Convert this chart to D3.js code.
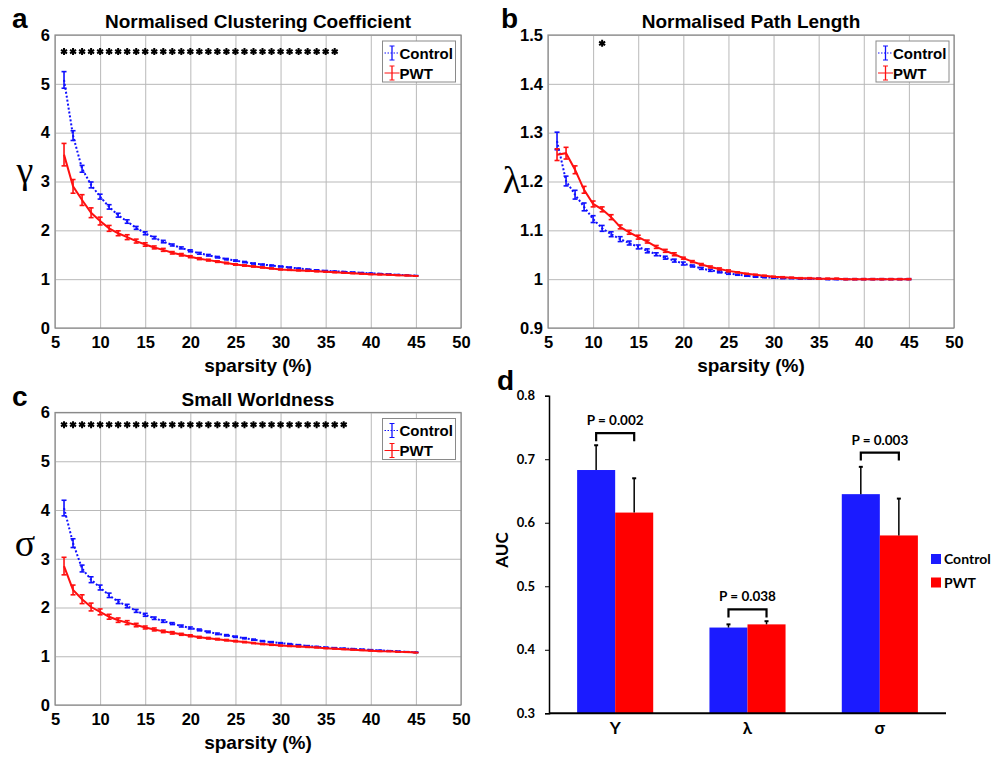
<!DOCTYPE html>
<html>
<head>
<meta charset="utf-8">
<script src="https://cdn.jsdelivr.net/npm/d3@7"></script>
<style>
	body { margin: 0; background: #fff; }
	text { font-family: "Liberation Sans", Arial, sans-serif; font-weight: bold; fill: #000; }
	.grid line { stroke: #b9b9b9; stroke-width: 1; }
	.grid .domain { display: none; }
	.ctrl { fill: none; stroke: #1010ff; stroke-width: 2; stroke-dasharray: 2,2; }
	.pwt { fill: none; stroke: #ff1010; stroke-width: 2; }
	.panelD text { font-family: Lato, "Open Sans", sans-serif; }
</style>
</head>
<body>
<svg id="fig" width="1003" height="758"></svg>
<script>
// sparsity (%) thresholds
var sparsity = [6,7,8,9,10,11,12,13,14,15,16,17,18,19,20,21,22,23,24,25,
                26,27,28,29,30,31,32,33,34,35,36,37,38,39,40,41,42,43,44,45];
var sparsityTicks = [5,10,15,20,25,30,35,40,45,50];

// a: normalised clustering coefficient
var gammaControl = [5.08,3.94,3.26,2.93,2.69,2.48,2.31,2.18,2.05,1.94,
                    1.85,1.77,1.70,1.64,1.58,1.53,1.49,1.45,1.41,1.38,
                    1.35,1.32,1.30,1.28,1.26,1.24,1.22,1.20,1.185,1.17,
                    1.16,1.15,1.14,1.13,1.12,1.11,1.10,1.09,1.08,1.07];
var gammaControlErr = [0.17,0.10,0.07,0.06,0.05,0.045,0.04,0.035,0.03,0.03,
                       0.025,0.025,0.02,0.02,0.02,0.018,0.016,0.015,0.014,0.013,
                       0.012,0.011,0.01,0.01,0.009,0.009,0.008,0.008,0.007,0.007,
                       0.006,0.006,0.006,0.005,0.005,0.005,0.004,0.004,0.004,0.004];
var gammaPWT = [3.55,2.90,2.62,2.36,2.19,2.04,1.94,1.86,1.78,1.71,
                1.65,1.60,1.54,1.50,1.46,1.42,1.39,1.36,1.33,1.30,
                1.28,1.26,1.24,1.22,1.20,1.19,1.18,1.17,1.16,1.15,
                1.14,1.13,1.12,1.11,1.10,1.095,1.09,1.08,1.075,1.065];
var gammaPWTErr = [0.23,0.14,0.11,0.10,0.08,0.06,0.05,0.05,0.04,0.035,
                   0.03,0.03,0.025,0.025,0.02,0.02,0.018,0.016,0.015,0.014,
                   0.013,0.012,0.011,0.01,0.01,0.009,0.009,0.008,0.008,0.007,
                   0.007,0.006,0.006,0.006,0.005,0.005,0.005,0.004,0.004,0.004];
var gammaStars = [6,7,8,9,10,11,12,13,14,15,16,17,18,19,20,21,22,23,24,25,26,27,28,29,30,31,32,33,34,35,36];

// b: normalised path length
var lambdaControl = [1.283,1.201,1.173,1.148,1.123,1.104,1.092,1.082,1.074,1.066,
                     1.058,1.051,1.044,1.038,1.032,1.027,1.022,1.018,1.015,1.012,
                     1.009,1.007,1.005,1.004,1.003,1.002,1.002,1.001,1.001,1.001,
                     1.000,1.000,1.000,1.000,1.000,1.000,1.000,1.000,1.000,1.000];
var lambdaControlErr = [0.018,0.010,0.009,0.008,0.007,0.006,0.005,0.005,0.004,0.004,
                        0.004,0.003,0.003,0.003,0.003,0.002,0.002,0.002,0.002,0.002,
                        0.001,0.001,0.001,0.001,0.001,0.001,0.001,0.001,0.001,0.001,
                        0.001,0.001,0.001,0.001,0.001,0.001,0.001,0.001,0.001,0.001];
var lambdaPWT = [1.255,1.258,1.224,1.183,1.154,1.143,1.127,1.107,1.096,1.086,
                 1.077,1.066,1.058,1.051,1.043,1.036,1.030,1.025,1.021,1.017,
                 1.014,1.011,1.009,1.007,1.005,1.004,1.003,1.002,1.002,1.001,
                 1.001,1.001,1.000,1.000,1.000,1.000,1.000,1.000,1.000,1.000];
var lambdaPWTErr = [0.012,0.012,0.008,0.007,0.006,0.005,0.005,0.004,0.004,0.004,
                    0.003,0.003,0.003,0.003,0.002,0.002,0.002,0.002,0.002,0.002,
                    0.001,0.001,0.001,0.001,0.001,0.001,0.001,0.001,0.001,0.001,
                    0.001,0.001,0.001,0.001,0.001,0.001,0.001,0.001,0.001,0.001];
var lambdaStars = [11];

// c: small worldness
var sigmaControl = [4.04,3.32,2.80,2.57,2.41,2.25,2.12,2.03,1.93,1.85,
                    1.78,1.72,1.67,1.62,1.58,1.54,1.50,1.46,1.43,1.40,
                    1.37,1.34,1.31,1.29,1.27,1.25,1.23,1.21,1.195,1.18,
                    1.17,1.16,1.15,1.14,1.13,1.12,1.11,1.10,1.09,1.08];
var sigmaControlErr = [0.16,0.09,0.07,0.06,0.05,0.045,0.04,0.035,0.03,0.03,
                       0.025,0.025,0.02,0.02,0.02,0.018,0.016,0.015,0.014,0.013,
                       0.012,0.011,0.01,0.01,0.009,0.009,0.008,0.008,0.007,0.007,
                       0.006,0.006,0.006,0.005,0.005,0.005,0.004,0.004,0.004,0.004];
var sigmaPWT = [2.85,2.36,2.17,2.01,1.91,1.81,1.74,1.69,1.64,1.59,
                1.55,1.51,1.48,1.45,1.42,1.39,1.37,1.35,1.33,1.31,
                1.29,1.27,1.25,1.235,1.22,1.21,1.20,1.19,1.18,1.165,
                1.155,1.145,1.135,1.125,1.115,1.105,1.10,1.09,1.085,1.075];
var sigmaPWTErr = [0.18,0.10,0.09,0.08,0.06,0.05,0.045,0.04,0.035,0.03,
                   0.03,0.025,0.025,0.02,0.02,0.018,0.016,0.015,0.014,0.013,
                   0.012,0.011,0.01,0.01,0.009,0.009,0.008,0.008,0.007,0.007,
                   0.006,0.006,0.006,0.005,0.005,0.005,0.004,0.004,0.004,0.004];
var sigmaStars = [6,7,8,9,10,11,12,13,14,15,16,17,18,19,20,21,22,23,24,25,26,27,28,29,30,31,32,33,34,35,36,37];

// d: area under curve
var aucCategories = ["\u03A5", "\u03BB", "\u03C3"];
var aucControl = [0.683, 0.435, 0.645];
var aucControlErr = [0.039, 0.005, 0.043];
var aucPWT = [0.616, 0.440, 0.580];
var aucPWTErr = [0.054, 0.005, 0.058];
var aucPvalues = ["P = 0.002", "P = 0.038", "P = 0.003"];
var aucBracket = [0.741, 0.4635, 0.7105];
var aucTicks = [0.3, 0.4, 0.5, 0.6, 0.7, 0.8];

var svg = d3.select("#fig");
svg.append("rect").attr("width", 1003).attr("height", 758).attr("fill", "#fff");

function linePanel(p) {
	var x = d3.scaleLinear().domain([5, 50]).range([p.left, p.right]);
	var y = d3.scaleLinear().domain(p.yDomain).range([p.bottom, p.top]);
	var g = svg.append("g");
	var h = p.bottom - p.top, w = p.right - p.left;

	g.append("g").attr("class", "grid")
		.attr("transform", "translate(0," + p.bottom + ")")
		.call(d3.axisBottom(x).tickValues(sparsityTicks).tickSize(-h).tickFormat(""));
	g.append("g").attr("class", "grid")
		.attr("transform", "translate(" + p.left + ",0)")
		.call(d3.axisLeft(y).tickValues(p.yTicks).tickSize(-w).tickFormat(""));
	g.append("rect")
		.attr("x", p.left).attr("y", p.top).attr("width", w).attr("height", h)
		.attr("fill", "none").attr("stroke", "#8a8a8a").attr("stroke-width", 1.2);

	// tick labels
	var xa = g.append("g").attr("transform", "translate(0," + p.bottom + ")")
		.call(d3.axisBottom(x).tickValues(sparsityTicks).tickSize(0).tickPadding(8));
	var ya = g.append("g").attr("transform", "translate(" + p.left + ",0)")
		.call(d3.axisLeft(y).tickValues(p.yTicks).tickSize(0).tickPadding(5).tickFormat(function(d) { return String(d); }));
	[xa, ya].forEach(function(a) {
		a.select(".domain").remove();
		a.attr("font-family", null).attr("font-size", 16.5);
	});

	g.append("text").attr("x", (p.left + p.right) / 2).attr("y", p.bottom + 44)
		.attr("text-anchor", "middle").attr("font-size", 19).text("sparsity (%)");
	g.append("text").attr("x", (p.left + p.right) / 2).attr("y", p.top - 7)
		.attr("text-anchor", "middle").attr("font-size", 19).text(p.title);
	g.append("text").attr("x", p.letterX).attr("y", p.top - 7)
		.attr("font-size", 28).text(p.letter);
	g.append("text").attr("x", p.ylabX).attr("y", p.ylabY)
		.attr("text-anchor", "middle").attr("font-size", 38)
		.style("font-family", "'Liberation Serif', 'DejaVu Serif', serif").style("font-weight", "normal")
		.text(p.ylab);

	var line = d3.line().x(function(d, i) { return x(sparsity[i]); }).y(function(d) { return y(d); });

	function series(vals, errs, cls, color) {
		g.append("path").datum(vals).attr("class", cls).attr("d", line);
		var eb = g.append("g").attr("stroke", color).attr("stroke-width", 1.6);
		vals.forEach(function(v, i) {
			var cx = x(sparsity[i]), y1 = y(v - errs[i]), y2 = y(v + errs[i]);
			eb.append("line").attr("x1", cx).attr("x2", cx).attr("y1", y1).attr("y2", y2);
			eb.append("line").attr("x1", cx - 2.5).attr("x2", cx + 2.5).attr("y1", y1).attr("y2", y1);
			eb.append("line").attr("x1", cx - 2.5).attr("x2", cx + 2.5).attr("y1", y2).attr("y2", y2);
		});
	}
	series(p.control, p.controlErr, "ctrl", "#1010ff");
	series(p.pwt, p.pwtErr, "pwt", "#ff1010");

	var star = d3.symbol().type(d3.symbolAsterisk || d3.symbolCross).size(34);
	g.selectAll(".star").data(p.stars).enter().append("path")
		.attr("d", star)
		.attr("transform", function(d) { return "translate(" + x(d) + "," + y(p.starY) + ")"; })
		.attr("fill", "none").attr("stroke", "#000").attr("stroke-width", 2);

	// legend
	var lg = g.append("g").attr("transform", "translate(" + p.legendX + "," + (p.top + 6) + ")");
	lg.append("rect").attr("width", 73).attr("height", 41)
		.attr("fill", "#fff").attr("stroke", "#8a8a8a");
	[["Control", "#1010ff", "ctrl", 12], ["PWT", "#ff1010", "pwt", 32]].forEach(function(it) {
		var cy = it[3];
		lg.append("line").attr("x1", 2).attr("x2", 17).attr("y1", cy).attr("y2", cy)
			.attr("class", it[2]).style("stroke-width", 1).style("stroke-dasharray", it[2] === "ctrl" ? "1.5,1.5" : null);
		lg.append("line").attr("x1", 9.5).attr("x2", 9.5).attr("y1", cy - 7).attr("y2", cy + 7)
			.attr("stroke", it[1]).attr("stroke-width", 1.3);
		lg.append("line").attr("x1", 7).attr("x2", 12).attr("y1", cy - 7).attr("y2", cy - 7).attr("stroke", it[1]);
		lg.append("line").attr("x1", 7).attr("x2", 12).attr("y1", cy + 7).attr("y2", cy + 7).attr("stroke", it[1]);
		lg.append("text").attr("x", 17).attr("y", cy + 5.5).attr("font-size", 15).text(it[0]);
	});
}

linePanel({
	letter: "a", letterX: 12, title: "Normalised Clustering Coefficient",
	left: 55, right: 461, top: 35, bottom: 328,
	yDomain: [0, 6], yTicks: [0, 1, 2, 3, 4, 5, 6],
	control: gammaControl, controlErr: gammaControlErr, pwt: gammaPWT, pwtErr: gammaPWTErr,
	stars: gammaStars, starY: 5.66, legendX: 382.5,
	ylab: "\u03B3", ylabX: 25, ylabY: 183
});
linePanel({
	letter: "b", letterX: 501, title: "Normalised Path Length",
	left: 548, right: 954, top: 35, bottom: 328,
	yDomain: [0.9, 1.5], yTicks: [0.9, 1, 1.1, 1.2, 1.3, 1.4, 1.5],
	control: lambdaControl, controlErr: lambdaControlErr, pwt: lambdaPWT, pwtErr: lambdaPWTErr,
	stars: lambdaStars, starY: 1.483, legendX: 876,
	ylab: "\u03BB", ylabX: 512, ylabY: 193
});
linePanel({
	letter: "c", letterX: 12, title: "Small Worldness",
	left: 55, right: 461, top: 412.5, bottom: 705,
	yDomain: [0, 6], yTicks: [0, 1, 2, 3, 4, 5, 6],
	control: sigmaControl, controlErr: sigmaControlErr, pwt: sigmaPWT, pwtErr: sigmaPWTErr,
	stars: sigmaStars, starY: 5.75, legendX: 382.5,
	ylab: "\u03C3", ylabX: 25, ylabY: 556
});

// panel d: AUC bars
(function() {
	var g = svg.append("g").attr("class", "panelD");
	var x = d3.scaleBand().domain(aucCategories).range([549, 946]).paddingInner(0.425).paddingOuter(0.2125);
	var y = d3.scaleLinear().domain([0.3, 0.8]).range([713.3, 395.7]);
	var bw = x.bandwidth() / 2;

	var groups = [["Control", aucControl, aucControlErr, "#1b1bff", 0], ["PWT", aucPWT, aucPWTErr, "#ff0000", 1]];
	groups.forEach(function(gr) {
		g.selectAll(".bar" + gr[4]).data(gr[1]).enter().append("rect")
			.attr("x", function(d, i) { return x(aucCategories[i]) + gr[4] * bw; })
			.attr("y", function(d) { return y(d); })
			.attr("width", bw)
			.attr("height", function(d) { return y(0.3) - y(d); })
			.attr("fill", gr[3]);
		gr[1].forEach(function(v, i) {
			var cx = x(aucCategories[i]) + gr[4] * bw + bw / 2;
			g.append("line").attr("x1", cx).attr("x2", cx).attr("y1", y(v)).attr("y2", y(v + gr[2][i]))
				.attr("stroke", "#000").attr("stroke-width", 1.5);
			g.append("line").attr("x1", cx - 2).attr("x2", cx + 2).attr("y1", y(v + gr[2][i])).attr("y2", y(v + gr[2][i]))
				.attr("stroke", "#000").attr("stroke-width", 2);
		});
	});

	aucCategories.forEach(function(c, i) {
		var x1 = x(c) + bw / 2, x2 = x(c) + bw * 1.5, yb = y(aucBracket[i]);
		g.append("path").attr("d", "M" + x1 + "," + (yb + 8) + "V" + yb + "H" + x2 + "V" + (yb + 8))
			.attr("fill", "none").attr("stroke", "#000").attr("stroke-width", 2.2);
		g.append("text").attr("x", (x1 + x2) / 2).attr("y", yb - 8)
			.attr("text-anchor", "middle").attr("font-size", 13.5).text(aucPvalues[i]);
	});

	var ya = g.append("g").attr("transform", "translate(549,0)")
		.call(d3.axisLeft(y).tickValues(aucTicks).tickSize(4).tickPadding(10).tickFormat(d3.format(".1f")));
	ya.attr("font-family", null).attr("font-size", 13);
	ya.select(".domain").attr("stroke-width", 1.5);

	g.append("line").attr("x1", 549).attr("x2", 946).attr("y1", y(0.3)).attr("y2", y(0.3))
		.attr("stroke", "#000").attr("stroke-width", 2);
	aucCategories.forEach(function(c) {
		g.append("text").attr("x", x(c) + x.bandwidth() / 2).attr("y", 734)
			.attr("text-anchor", "middle").attr("font-size", 17).text(c);
	});

	g.append("text").attr("transform", "translate(508,550) rotate(-90)")
		.attr("text-anchor", "middle").attr("font-size", 17).text("AUC");
	g.append("text").attr("x", 497).attr("y", 390).attr("font-size", 28)
		.style("font-family", "'Liberation Sans', Arial, sans-serif").text("d");

	[["Control", "#1b1bff", 559], ["PWT", "#ff0000", 582.5]].forEach(function(it) {
		g.append("rect").attr("x", 931).attr("y", it[2] - 5).attr("width", 10).attr("height", 10).attr("fill", it[1]);
		g.append("text").attr("x", 944).attr("y", it[2] + 5).attr("font-size", 14).text(it[0]);
	});
})();
</script>
</body>
</html>
